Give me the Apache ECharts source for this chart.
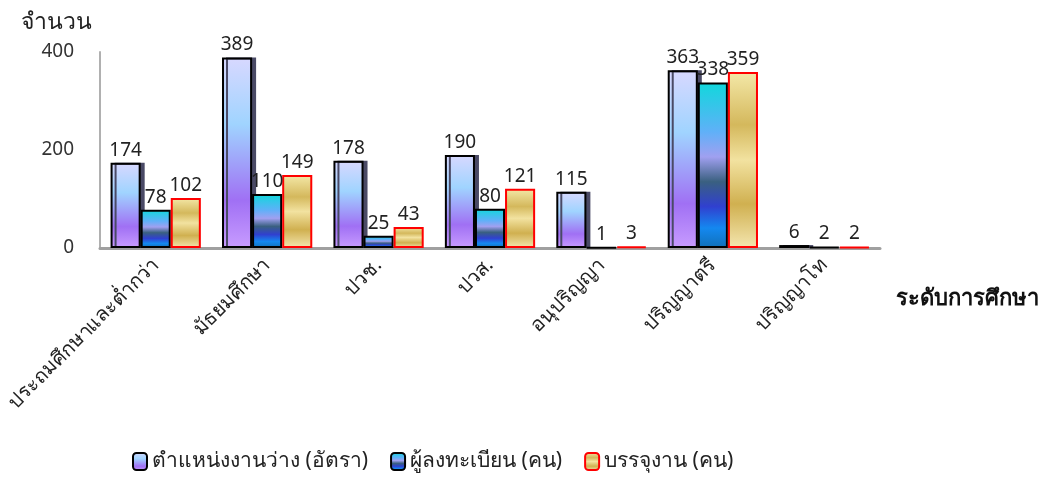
<!DOCTYPE html>
<html><head><meta charset="utf-8">
<script src="https://cdn.jsdelivr.net/npm/echarts@6/dist/echarts.min.js"></script>
<style>html,body{margin:0;padding:0;background:#fff}#c{width:1055px;height:482px}</style>
</head><body><div id="c"></div>
<script>
const categories = ['ประถมศึกษาและต่ำกว่า','มัธยมศึกษา','ปวช.','ปวส.','อนุปริญญา','ปริญญาตรี','ปริญญาโท'];
const seriesNames = ['ตำแหน่งงานว่าง (อัตรา)','ผู้ลงทะเบียน (คน)','บรรจุงาน (คน)'];
const vacancies = [174,389,178,190,115,363,6];
const registered = [78,110,25,80,1,338,2];
const placed = [102,149,43,121,3,359,2];
const yTicks = [0,200,400];
const xAxisName = 'ระดับการศึกษา';
const yAxisName = 'จำนวน';

const FONT = '"Noto Sans", "DejaVu Sans", sans-serif';
const lin = (stops) => new echarts.graphic.LinearGradient(0,0,0,1, stops.map(s=>({offset:s[0],color:s[1]})));
const g1 = lin([[0,'#d8d8ff'],[0.35,'#a0d4ff'],[0.75,'#a070f4'],[1,'#c89cff']]);
const g2 = lin([[0,'#10d8dc'],[0.3,'#60b0f8'],[0.45,'#a0a0f0'],[0.6,'#3a6080'],[0.75,'#3040d0'],[0.88,'#1488f0'],[1,'#1070b8']]);
const g3 = lin([[0,'#f4e8a8'],[0.3,'#d4b85c'],[0.5,'#f2e2a0'],[0.75,'#d0b050'],[1,'#f4e6b0']]);

const chart = echarts.init(document.getElementById('c'));
const labelCfg = {show:true, position:'top', distance:3, fontSize:19, color:'#222', fontFamily:FONT};
chart.setOption({
  animation:false,
  textStyle:{fontFamily:FONT},
  title:{text:xAxisName,left:891,top:283,
    textStyle:{fontSize:22,fontWeight:'bold',color:'#111',fontFamily:FONT}},
  grid:{left:100,right:175,top:52,bottom:234},
  legend:{top:446,left:127,itemWidth:14,itemHeight:17,itemGap:22,
    textStyle:{fontSize:21,color:'#222',fontFamily:FONT},
    data:seriesNames},
  xAxis:{type:'category',data:categories,
    axisLine:{lineStyle:{color:'#a0a0a0',width:3}},
    axisTick:{show:false},
    axisLabel:{rotate:45,fontSize:20,color:'#222',margin:14,interval:0,fontFamily:FONT}},
  yAxis:{type:'value',min:0,max:400,interval:200,
    name:yAxisName,nameLocation:'end',nameGap:18,
    nameTextStyle:{fontSize:23,color:'#222',align:'right',padding:[0,8,0,0],fontFamily:FONT},
    axisLine:{show:true,lineStyle:{color:'#b0b0b0',width:2}},
    axisTick:{show:false},splitLine:{show:false},
    axisLabel:{fontSize:19,color:'#333',margin:26,fontFamily:FONT,
      formatter:(v)=>yTicks.includes(v)?String(v):''}},
  series:[
    {name:seriesNames[0],type:'bar',data:vacancies,barGap:'0%',barCategoryGap:'19%',
     itemStyle:{color:g1,borderColor:'#000',borderWidth:2,shadowColor:'#4a4a66',shadowOffsetX:4,shadowBlur:0},
     label:labelCfg},
    {name:seriesNames[1],type:'bar',data:registered,barGap:'0%',barCategoryGap:'19%',
     itemStyle:{color:g2,borderColor:'#000',borderWidth:2},
     label:labelCfg},
    {name:seriesNames[2],type:'bar',data:placed,barGap:'0%',barCategoryGap:'19%',
     itemStyle:{color:g3,borderColor:'#ff0000',borderWidth:2},
     label:labelCfg}
  ]
});
</script></body></html>
